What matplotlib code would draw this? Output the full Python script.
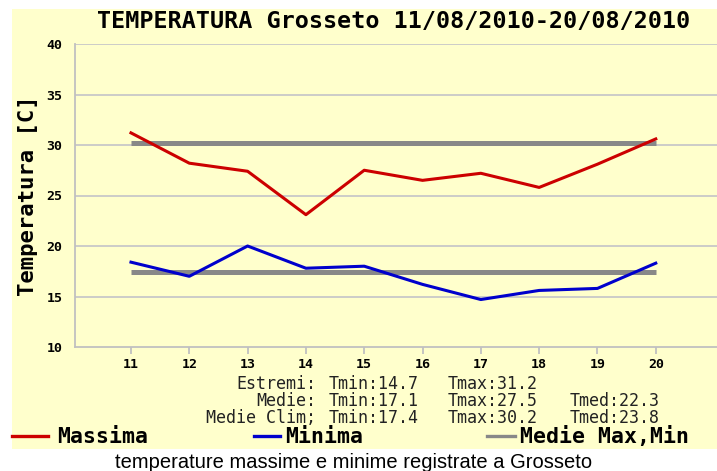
import matplotlib
matplotlib.use("Agg")
import matplotlib.pyplot as plt
from matplotlib.patches import Rectangle

# giorni di agosto 2010
giorni = [11, 12, 13, 14, 15, 16, 17, 18, 19, 20]
t_max = [31.2, 28.2, 27.4, 23.1, 27.5, 26.5, 27.2, 25.8, 28.1, 30.6]
t_min = [18.4, 17.0, 20.0, 17.8, 18.0, 16.2, 14.7, 15.6, 15.8, 18.3]
clim_max = 30.2
clim_min = 17.4
y_ticks = [10, 15, 20, 25, 30, 35, 40]

titolo = "TEMPERATURA Grosseto 11/08/2010-20/08/2010"
didascalia = "temperature massime e minime registrate a Grosseto"
righe_stat = [
    ("Estremi:", ["Tmin:14.7", "Tmax:31.2"]),
    ("Medie:", ["Tmin:17.1", "Tmax:27.5", "Tmed:22.3"]),
    ("Medie Clim;", ["Tmin:17.4", "Tmax:30.2", "Tmed:23.8"]),
]
voci_legenda = ["Massima", "Minima", "Medie Max,Min"]

ROSSO = "#cc0000"
BLU = "#0000cc"
GRIGIO = "#888888"
GIALLO = "#ffffcc"
MONO = "DejaVu Sans Mono"

W, H = 717, 471
fig = plt.figure(figsize=(W / 100, H / 100), dpi=100)
fig.patch.set_facecolor("white")


def px(x, y):
    # pixel (dall'alto a sinistra) -> coordinate figura
    return x / W, 1 - y / H


# pannello giallo, sotto gli assi
fig.patches.append(Rectangle(px(12, 449), (W - 12) / W, 440 / H,
                             transform=fig.transFigure, facecolor=GIALLO,
                             edgecolor="none", zorder=-10))

ax = fig.add_axes([75 / W, 1 - 347 / H, (W - 75) / W, (347 - 44) / H])
ax.set_facecolor(GIALLO)
ax.set_xlim(10.04, 21.05)
ax.set_ylim(10, 40)

for v in y_ticks[1:]:
    ax.axhline(v, color="#c8c8c8", lw=1.3, zorder=1)

ax.plot([giorni[0], giorni[-1]], [clim_max, clim_max], color=GRIGIO, lw=3.6,
        solid_capstyle="butt", zorder=2)
ax.plot([giorni[0], giorni[-1]], [clim_min, clim_min], color=GRIGIO, lw=3.6,
        solid_capstyle="butt", zorder=2)
ax.plot(giorni, t_max, color=ROSSO, lw=2.2, zorder=3)
ax.plot(giorni, t_min, color=BLU, lw=2.2, zorder=3)

for s in ["top", "right"]:
    ax.spines[s].set_visible(False)
for s in ["left", "bottom"]:
    ax.spines[s].set_color("#c0c0c0")
    ax.spines[s].set_linewidth(1.3)

ax.set_xticks(giorni)
ax.set_xticklabels([str(g) for g in giorni], fontfamily=MONO,
                   fontweight="bold", fontsize=9.5)
ax.set_yticks(y_ticks)
ax.set_yticklabels([str(v) for v in y_ticks], fontfamily=MONO,
                   fontweight="bold", fontsize=9.5)
ax.tick_params(axis="x", length=5, width=1.3, color="#c0c0c0", pad=3)
ax.tick_params(axis="y", length=0, pad=9)

ax.set_ylabel("Temperatura [C]", fontfamily=MONO, fontweight="bold",
              fontsize=16, labelpad=6)

fig.text(*px(394, 21), titolo, ha="center", va="center", fontfamily=MONO,
         fontweight="bold", fontsize=16.8)

# riepilogo statistico
colonne = [329, 448, 570]
for i, (pref, valori) in enumerate(righe_stat):
    y = 384 + i * 17
    fig.text(*px(316, y), pref, ha="right", va="center", fontfamily=MONO,
             fontsize=12, color="#222222")
    for x, val in zip(colonne, valori):
        fig.text(*px(x, y), val, ha="left", va="center", fontfamily=MONO,
                 fontsize=12, color="#222222")

# legenda
colori = [ROSSO, BLU, GRIGIO]
pos_legenda = [(12, 48, 57), (254, 280, 285), (487, 515, 520)]
for nome, col, (x0, x1, xt) in zip(voci_legenda, colori, pos_legenda):
    fig.lines.append(plt.Line2D([x0 / W, x1 / W], [1 - 436 / H] * 2,
                                transform=fig.transFigure, color=col, lw=2.4))
    fig.text(*px(xt, 437), nome, ha="left", va="center", fontfamily=MONO,
             fontweight="bold", fontsize=15.5)

fig.text(*px(354, 462), didascalia, ha="center", va="center",
         fontfamily="Liberation Sans", fontsize=14.5)

fig.savefig("out.png", dpi=100)
